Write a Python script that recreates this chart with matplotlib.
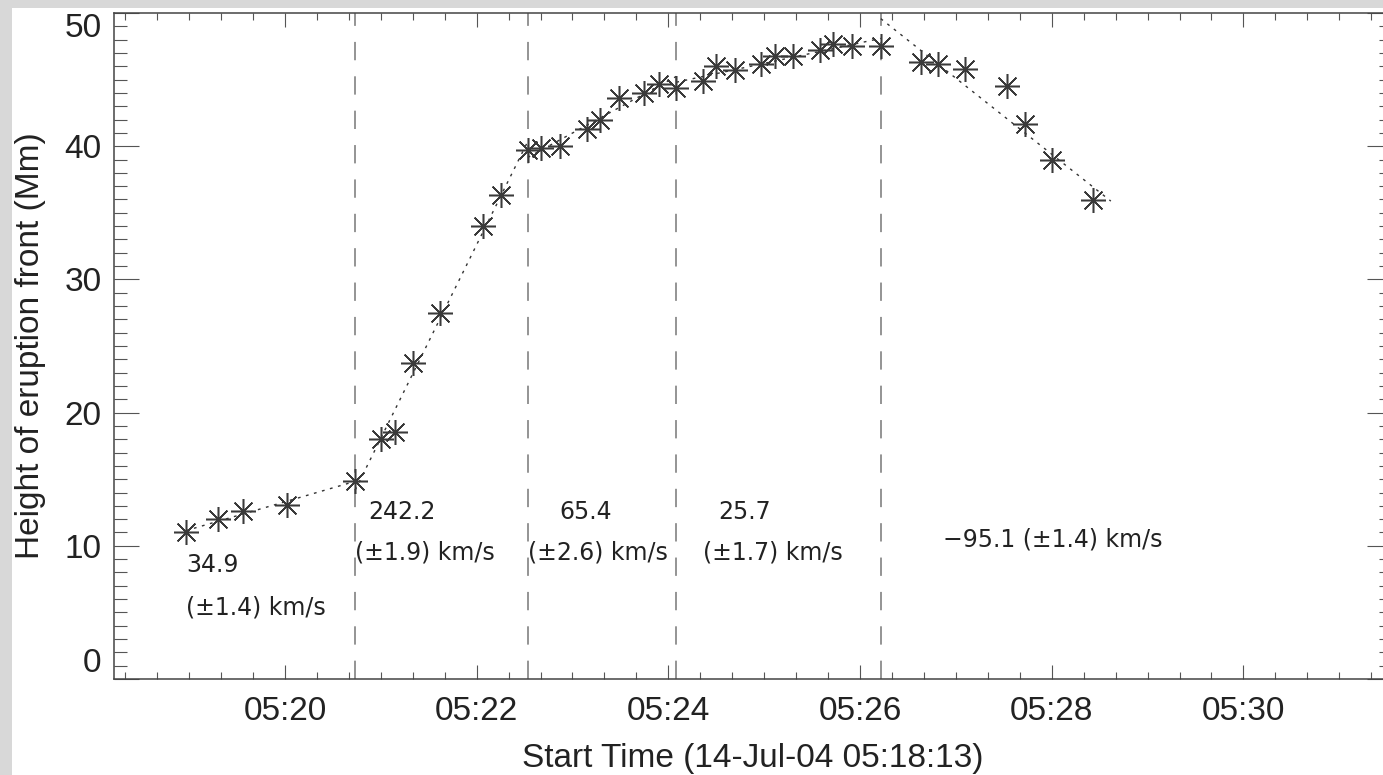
import matplotlib
matplotlib.use("Agg")
import matplotlib.pyplot as plt
from matplotlib.patches import Rectangle
from matplotlib.ticker import MultipleLocator, FuncFormatter
import numpy as np

# height-time measurements of the eruption front
times = ["05:18:58", "05:19:18", "05:19:34", "05:20:01", "05:20:44",
         "05:21:00", "05:21:09", "05:21:20", "05:21:37", "05:22:04", "05:22:15",
         "05:22:32", "05:22:40", "05:22:52", "05:23:09", "05:23:17", "05:23:29",
         "05:23:45", "05:23:54", "05:24:05",
         "05:24:22", "05:24:30", "05:24:42", "05:24:58", "05:25:07", "05:25:18",
         "05:25:35", "05:25:43", "05:25:55", "05:26:13",
         "05:26:38", "05:26:49", "05:27:06", "05:27:32", "05:27:43", "05:28:00",
         "05:28:26"]
heights = [11.0, 12.0, 12.6, 13.05, 14.9,
           18.0, 18.55, 23.7, 27.45, 34.0, 36.3,
           39.7, 39.9, 40.0, 41.3, 42.0, 43.6, 44.0, 44.7, 44.35,
           44.9, 46.0, 45.7, 46.2, 46.8, 46.8, 47.2, 47.7, 47.5, 47.5,
           46.3, 46.15, 45.8, 44.5, 41.65, 39.0, 35.95]

# fit intervals and the speeds fitted in each (km/s)
bounds = ["05:18:58", "05:20:44", "05:22:32", "05:24:05", "05:26:13", "05:28:37"]
speeds = [34.9, 242.2, 65.4, 25.7, -95.1]
speed_err = [1.4, 1.9, 2.6, 1.7, 1.4]

start = "05:18:13"
yticks = [0, 10, 20, 30, 40, 50]


def secs(s):
    h, m, sec = [int(v) for v in s.split(":")]
    return (h - 5) * 3600 + m * 60 + sec


t = np.array([secs(s) for s in times], dtype=float)
h = np.array(heights)
tb = [secs(s) for s in bounds]

fig = plt.figure(figsize=(13.83, 7.75), dpi=100)
fig.patch.set_facecolor("#d8d8d8")
fig.add_artist(Rectangle((12 / 1383, 0), 1, 1 - 8 / 775, transform=fig.transFigure,
                         facecolor="white", edgecolor="none", zorder=0))

ax = fig.add_axes([114 / 1383, 96 / 775, 1278 / 1383, 666 / 775])
ax.set_facecolor("white")

ax.plot(t, h, linestyle="none", marker=(8, 2, 0), markersize=18,
        markeredgewidth=1.1, color="#3a3a3a", zorder=3)

# linear fits: slope from the quoted speed, through each interval's centroid
for i, v in enumerate(speeds):
    sel = (t >= tb[i]) & (t <= tb[i + 1])
    tc, hc = t[sel].mean(), h[sel].mean()
    xs = np.array([tb[i], tb[i + 1]], dtype=float)
    ax.plot(xs, hc + v / 1000.0 * (xs - tc), linestyle=(0, (2, 4)),
            linewidth=1.0, color="#333333", zorder=2)

for b in tb[1:-1]:
    ax.axvline(b, color="#777777", linewidth=1.1, linestyle=(0, (12, 10.5)), zorder=1)

tfont = dict(family="DejaVu Sans", fontsize=17, color="#222222", va="center", ha="left")
ax.text(secs("05:18:58"), 8.55, f"{speeds[0]}", **tfont)
ax.text(secs("05:18:58"), 5.4, f"(\u00b1{speed_err[0]}) km/s", **tfont)
ax.text(secs("05:20:52"), 12.55, f"{speeds[1]}", **tfont)
ax.text(secs("05:20:44"), 9.5, f"(\u00b1{speed_err[1]}) km/s", **tfont)
ax.text(secs("05:22:52"), 12.55, f"{speeds[2]}", **tfont)
ax.text(secs("05:22:32"), 9.5, f"(\u00b1{speed_err[2]}) km/s", **tfont)
ax.text(secs("05:24:31"), 12.55, f"{speeds[3]}", **tfont)
ax.text(secs("05:24:22"), 9.5, f"(\u00b1{speed_err[3]}) km/s", **tfont)
ax.text(secs("05:26:52"), 10.45,
        f"\u2212{abs(speeds[4])} (\u00b1{speed_err[4]}) km/s", **tfont)

t0 = secs(start)
ax.set_xlim(t0, t0 + 800)
ax.set_ylim(0, 50)

ax.xaxis.set_major_locator(MultipleLocator(120))
ax.xaxis.set_minor_locator(MultipleLocator(20))
ax.xaxis.set_major_formatter(FuncFormatter(lambda x, p: f"05:{int(round(x)) // 60:02d}"))
ax.set_yticks(yticks)
ax.yaxis.set_minor_locator(MultipleLocator(1))

ax.tick_params(which="both", direction="in", top=True, right=True,
               color="#555555", width=0.8, labelsize=24, labelcolor="#222222")
ax.tick_params(axis="x", which="major", length=10, pad=12)
ax.tick_params(axis="x", which="minor", length=5)
ax.tick_params(axis="y", which="major", length=18, pad=9)
ax.tick_params(axis="y", which="minor", length=9.5)
for lab in ax.get_xticklabels() + ax.get_yticklabels():
    lab.set_family("Liberation Sans")

# keep the end labels inside the axis range
ylabels = ax.get_yticklabels()
ylabels[0].set_va("bottom")
ylabels[-1].set_va("top")

for sp in ax.spines.values():
    sp.set_color("#444444")
    sp.set_linewidth(1.1)

ax.set_xlabel(f"Start Time (14-Jul-04 {start})", fontsize=24, family="Liberation Sans",
              color="#222222", labelpad=12)
ax.set_ylabel("Height of eruption front (Mm)", fontsize=24, family="Liberation Sans",
              color="#222222", labelpad=13)

fig.savefig("out.png", dpi=100, facecolor=fig.get_facecolor())
